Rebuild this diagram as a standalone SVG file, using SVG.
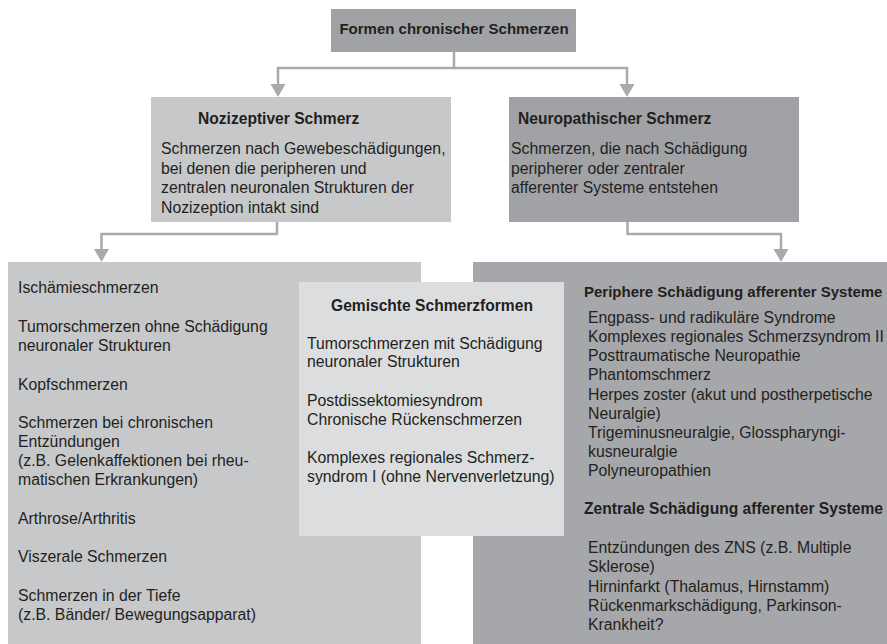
<svg xmlns="http://www.w3.org/2000/svg" width="887" height="644" viewBox="0 0 887 644">
<defs>
<style>
.t{font-family:"Liberation Sans",Arial,sans-serif;font-size:15.8px;fill:#231f20}
.b{font-weight:bold;font-size:15.6px}
.s{font-size:15px}
.c{fill:none;stroke:#a9aaad;stroke-width:2.5}
.dark{fill:#a1a2a5}
.darker{fill:#a6a7aa}
.light{fill:#c7c8ca}
.pale{fill:#dcdddf}
</style>
<marker id="arr" markerUnits="userSpaceOnUse" markerWidth="16" markerHeight="16" viewBox="0 -8 14 16" refX="5" refY="0" orient="auto">
<path d="M0,-7.5 L13,0 L0,7.5 z" fill="#a9aaad"/>
</marker>
</defs>
<rect width="887" height="644" fill="#ffffff"/>
<g id="connectors">
<path class="c" d="M454,52 V68 H278 V89" marker-end="url(#arr)"/>
<path class="c" d="M454,68 H627 V89" marker-end="url(#arr)"/>
<path class="c" d="M277,222 V234 H101.5 V254" marker-end="url(#arr)"/>
<path class="c" d="M627.5,222 V234 H781 V254" marker-end="url(#arr)"/>
</g>
<g id="formen">
<rect class="dark" x="331" y="9" width="245" height="43"/>
<text class="t b s" x="454" y="34" text-anchor="middle">Formen chronischer Schmerzen</text>
</g>
<g id="nozizeptiv">
<rect class="light" x="151" y="97" width="300" height="125"/>
<text class="t b" x="198" y="124">Nozizeptiver Schmerz</text>
<text class="t" x="161" y="154">Schmerzen nach Gewebeschädigungen,</text>
<text class="t" x="161" y="173.5">bei denen die peripheren und</text>
<text class="t" x="161" y="193">zentralen neuronalen Strukturen der</text>
<text class="t" x="161" y="212.5">Nozizeption intakt sind</text>
</g>
<g id="neuropathisch">
<rect class="dark" x="509" y="97" width="290" height="125"/>
<text class="t b" x="518" y="124">Neuropathischer Schmerz</text>
<text class="t" x="511" y="154">Schmerzen, die nach Schädigung</text>
<text class="t" x="511" y="173.5">peripherer oder zentraler</text>
<text class="t" x="511" y="193">afferenter Systeme entstehen</text>
</g>
<g id="nozizeptiv-liste">
<rect class="light" x="8" y="262" width="413" height="382"/>
<text class="t" x="18" y="293">Ischämieschmerzen</text>
<text class="t" x="18" y="332">Tumorschmerzen ohne Schädigung</text>
<text class="t" x="18" y="351">neuronaler Strukturen</text>
<text class="t" x="18" y="389.5">Kopfschmerzen</text>
<text class="t" x="18" y="428">Schmerzen bei chronischen</text>
<text class="t" x="18" y="447">Entzündungen</text>
<text class="t" x="18" y="466">(z.B. Gelenkaffektionen bei rheu-</text>
<text class="t" x="18" y="485">matischen Erkrankungen)</text>
<text class="t" x="18" y="524">Arthrose/Arthritis</text>
<text class="t" x="18" y="562">Viszerale Schmerzen</text>
<text class="t" x="18" y="601">Schmerzen in der Tiefe</text>
<text class="t" x="18" y="620">(z.B. Bänder/ Bewegungsapparat)</text>
</g>
<g id="neuropathisch-liste">
<rect class="darker" x="473" y="262" width="414" height="382"/>
<text class="t b s" x="584" y="297">Periphere Schädigung afferenter Systeme</text>
<text class="t" x="588" y="323">Engpass- und radikuläre Syndrome</text>
<text class="t" x="588" y="342">Komplexes regionales Schmerzsyndrom II</text>
<text class="t" x="588" y="361">Posttraumatische Neuropathie</text>
<text class="t" x="588" y="380">Phantomschmerz</text>
<text class="t" x="588" y="399.5">Herpes zoster (akut und postherpetische</text>
<text class="t" x="588" y="418.5">Neuralgie)</text>
<text class="t" x="588" y="437.5">Trigeminusneuralgie, Glosspharyngi-</text>
<text class="t" x="588" y="457">kusneuralgie</text>
<text class="t" x="588" y="476">Polyneuropathien</text>
<text class="t b" x="584" y="514">Zentrale Schädigung afferenter Systeme</text>
<text class="t" x="588" y="553">Entzündungen des ZNS (z.B. Multiple</text>
<text class="t" x="588" y="572">Sklerose)</text>
<text class="t" x="588" y="591.5">Hirninfarkt (Thalamus, Hirnstamm)</text>
<text class="t" x="588" y="611">Rückenmarkschädigung, Parkinson-</text>
<text class="t" x="588" y="630">Krankheit?</text>
</g>
<g id="gemischt">
<rect class="pale" x="299" y="282" width="265" height="254"/>
<text class="t b" x="331" y="311">Gemischte Schmerzformen</text>
<text class="t" x="307" y="348.5">Tumorschmerzen mit Schädigung</text>
<text class="t" x="307" y="367">neuronaler Strukturen</text>
<text class="t" x="307" y="405.5">Postdissektomiesyndrom</text>
<text class="t" x="307" y="424.5">Chronische Rückenschmerzen</text>
<text class="t" x="307" y="463">Komplexes regionales Schmerz-</text>
<text class="t" x="307" y="482">syndrom I (ohne Nervenverletzung)</text>
</g>
</svg>
